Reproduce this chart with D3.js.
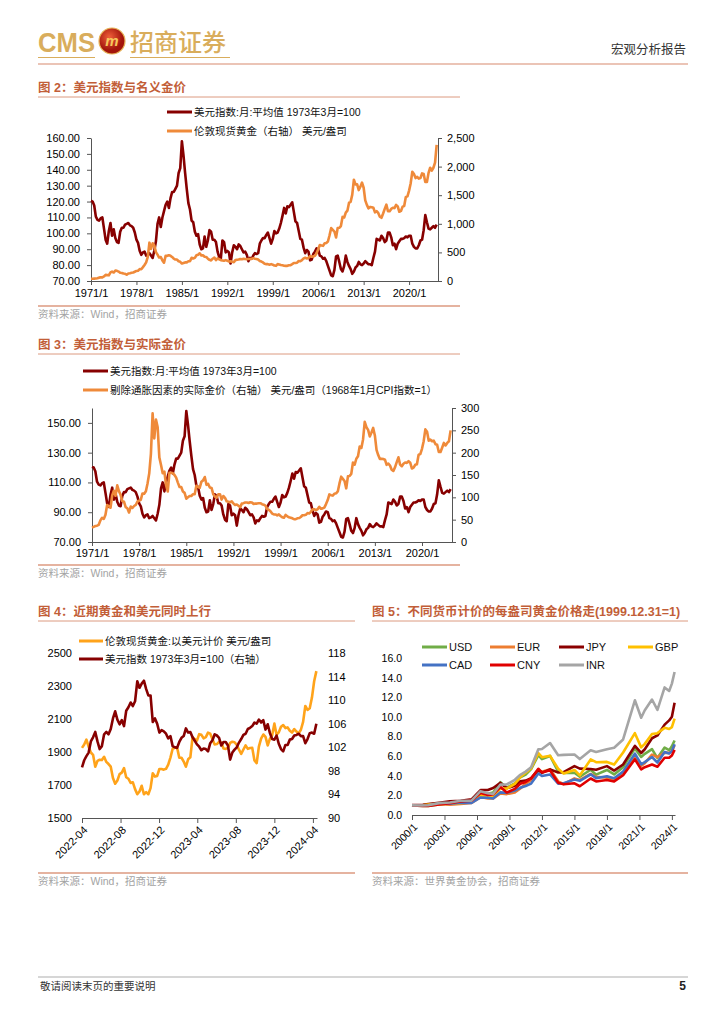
<!DOCTYPE html>
<html>
<head>
<meta charset="utf-8">
<script src="https://cdn.jsdelivr.net/npm/d3@7"></script>
<style>
  body { margin: 0; background: #fff; }
  svg text { font-family: "Liberation Sans", Arial, "Noto Sans CJK SC", sans-serif; }
</style>
</head>
<body>
<svg id="page" width="724" height="1024"></svg>
<script>
// ---------- data ----------

// quarterly, from 1971 Q1
const dxyQuarterly = [
  120.5, 120.0, 117.5, 110.5, 108.5, 108.0, 109.5, 110.0, 103.0, 96.0, 93.5, 101.5,
  106.5, 98.5, 102.5, 97.0, 94.5, 94.0, 101.0, 103.5, 103.5, 105.5, 106.0, 106.5,
  105.0, 104.5, 103.5, 100.5, 96.0, 94.0, 89.0, 86.5, 88.0, 88.5, 86.0, 86.5,
  87.5, 86.0, 84.5, 89.0, 95.0, 106.0, 110.0, 104.0, 110.0, 114.0, 118.0, 120.0,
  116.0, 122.0, 126.0, 126.0, 128.0, 130.0, 138.0, 141.0, 158.0, 149.0, 138.0, 128.0,
  119.0, 115.0, 108.0, 107.0, 101.0, 98.5, 99.5, 93.0, 90.0, 90.5, 98.0, 91.5,
  95.5, 102.0, 101.0, 96.0, 96.0, 94.5, 88.5, 85.0, 84.0, 95.5, 94.5, 88.0,
  89.0, 88.0, 81.0, 88.0, 92.5, 91.5, 90.0, 93.0, 92.0, 90.0, 88.0, 88.5,
  86.5, 82.5, 84.5, 84.0, 86.0, 87.5, 87.0, 87.5, 93.5, 95.5, 97.0, 97.0,
  99.0, 100.5, 97.0, 93.5, 96.5, 101.5, 100.0, 100.5, 103.0, 106.5, 111.0, 116.0,
  112.5, 117.0, 116.5, 118.0, 119.5, 113.5, 107.5, 106.5, 101.5, 96.5, 96.0, 91.0,
  87.5, 89.5, 88.5, 83.0, 83.5, 87.0, 88.5, 90.5, 90.0, 86.0, 85.5, 84.0,
  84.5, 82.5, 79.5, 76.5, 73.5, 73.0, 77.0, 85.5, 86.0, 82.0, 77.5, 76.0,
  79.5, 86.0, 82.0, 79.5, 77.5, 74.5, 76.0, 78.5, 79.5, 82.0, 80.5, 80.0,
  81.0, 82.5, 81.5, 80.5, 80.5, 80.0, 84.5, 88.5, 96.5, 96.0, 95.5, 98.5,
  97.0, 94.5, 95.5, 100.5, 100.5, 97.5, 92.5, 93.5, 90.0, 93.5, 95.0, 96.5,
  96.5, 97.0, 98.0, 97.5, 98.5, 98.5, 93.5, 91.5, 90.5, 90.5, 92.5, 95.5,
  96.0, 102.0, 111.5, 107.0, 103.0, 102.5, 103.5, 104.5, 103.5, 105.5
];

const goldQuarterly = [
  38, 40, 42, 43, 47, 59, 66, 63, 79, 107, 103, 99,
  149, 164, 148, 181, 178, 165, 143, 141, 130, 126, 110, 132,
  136, 144, 148, 162, 176, 180, 207, 206, 242, 279, 326, 420,
  670, 560, 660, 620, 505, 460, 410, 420, 360, 320, 440, 440,
  450, 440, 420, 390, 375, 375, 345, 335, 305, 315, 325, 325,
  345, 345, 405, 395, 405, 450, 460, 485, 445, 450, 425, 420,
  390, 370, 360, 390, 410, 365, 395, 380, 365, 360, 355, 365,
  355, 340, 345, 335, 330, 365, 370, 375, 385, 380, 388, 385,
  380, 385, 384, 387, 400, 390, 385, 375, 350, 340, 325, 300,
  295, 295, 285, 295, 285, 270, 265, 295, 290, 280, 275, 268,
  265, 265, 275, 278, 295, 315, 315, 320, 350, 345, 365, 395,
  405, 395, 405, 435, 425, 430, 440, 485, 555, 630, 620, 615,
  660, 665, 690, 800, 925, 895, 865, 760, 925, 930, 960, 1120,
  1110, 1195, 1230, 1370, 1385, 1510, 1770, 1690, 1690, 1590, 1650, 1720,
  1630, 1410, 1330, 1270, 1295, 1290, 1280, 1200, 1220, 1190, 1125, 1105,
  1180, 1260, 1335, 1220, 1220, 1260, 1280, 1275, 1330, 1305, 1210, 1225,
  1300, 1310, 1470, 1480, 1580, 1710, 1910, 1870, 1800, 1820, 1790, 1800,
  1880, 1870, 1730, 1730, 1890, 1980, 1930, 1980, 2070, 2380
];

const realGoldQuarterly = [
  32.3, 34.0, 35.7, 36.6, 38.5, 48.4, 54.1, 51.7, 61.2, 82.9, 79.8, 76.7,
  104.3, 114.8, 103.6, 126.7, 113.9, 105.6, 91.5, 90.2, 78.0, 75.6, 66.0, 79.2,
  76.2, 80.6, 82.9, 90.7, 92.4, 94.5, 108.7, 108.2, 113.7, 131.1, 153.2, 197.4,
  288, 232, 274, 257, 189, 172.5, 153.8, 157.5, 127, 113, 155, 155,
  154, 150, 144, 133, 123, 123, 113, 110, 97, 100, 103, 103,
  107, 107, 126, 123, 121.5, 135, 138, 145.5, 128, 130, 122, 121,
  107, 102, 99, 107, 107, 95, 103, 99, 91, 90, 89, 91,
  86, 83, 84, 81, 78, 86, 87, 88.5, 88.5, 87.4, 89, 88.5,
  85, 86, 86, 86.7, 86.8, 84.6, 83.5, 81.4, 74.2, 72.1, 68.9, 63.6,
  61.7, 61.7, 59.6, 61.7, 58.4, 55.4, 54.3, 60.5, 57.4, 55.4, 54.5, 53.1,
  51.1, 51.1, 53.1, 53.7, 56.0, 59.9, 59.9, 60.8, 64.8, 63.8, 67.5, 73.1,
  73.3, 71.5, 73.3, 78.7, 74.4, 75.3, 77.0, 84.9, 93.8, 106.5, 104.8, 103.9,
  108.2, 109.0, 113.2, 131.2, 146.2, 141.4, 136.7, 120.1, 147.0, 147.9, 152.6, 178.0,
  173.2, 186.4, 191.9, 213.7, 210.5, 229.5, 269.0, 256.9, 251.0, 236.1, 245.0, 255.4,
  238.5, 206.3, 194.6, 185.8, 186.5, 185.8, 184.3, 172.8, 175.6, 171.2, 161.9, 159.0,
  167.6, 178.9, 189.6, 173.2, 169.6, 175.1, 177.9, 177.2, 180.9, 177.5, 164.6, 166.6,
  172.9, 174.2, 195.5, 196.8, 208.6, 225.7, 252.1, 246.8, 226.8, 229.3, 225.5, 226.8,
  219.0, 217.9, 201.5, 201.5, 211.7, 221.8, 216.2, 221.8, 225.6, 250.0
];

const longStart = new Date(1971, 0, 1);
const longTicks = ['1971/1', '1978/1', '1985/1', '1992/1', '1999/1', '2006/1', '2013/1', '2020/1'];

// weekly (fridays), from 2022-04-01
const weekStart = new Date(2022, 3, 1);
const goldWeekly = [
  1925, 1945, 1975, 1932, 1897, 1883, 1811, 1846, 1853, 1851, 1871, 1840, 1827,
  1811, 1742, 1708, 1727, 1766, 1775, 1802, 1747, 1738, 1712, 1716, 1675, 1644, 1661,
  1695, 1644, 1657, 1644, 1681, 1771, 1751, 1755, 1797, 1797, 1793, 1798, 1824,
  1866, 1920, 1926, 1928, 1865, 1865, 1842, 1811, 1856, 1868, 1989, 1978, 1969,
  2008, 2004, 1983, 1990, 2017, 2011, 1978, 1946, 1948, 1961, 1958, 1921, 1919,
  1925, 1955, 1962, 1959, 1943, 1914, 1889, 1915, 1940, 1919, 1924, 1925, 1849,
  1833, 1933, 1981, 2006, 1992, 1940, 1981, 2001, 2072, 2005, 2019, 2053, 2063,
  2045, 2049, 2029, 2018, 2039, 2024, 2013, 2035, 2083, 2179, 2155, 2165, 2230,
  2329, 2390
];
const dxyWeekly = [
  98.6, 99.8, 100.5, 101.1, 103.0, 103.7, 104.6, 103.0, 101.7, 102.2, 104.2, 104.6, 104.2,
  105.1, 106.9, 108.1, 106.7, 105.9, 106.6, 105.6, 108.2, 108.8, 109.6, 109.0, 109.8, 113.2, 112.1,
  112.8, 113.3, 111.9, 110.8, 110.8, 106.3, 106.9, 106.0, 104.5, 104.9, 104.7, 104.3, 103.5,
  103.9, 102.2, 102.0, 101.9, 102.9, 103.6, 103.9, 105.2, 104.5, 104.6, 103.7, 103.1, 102.5,
  102.1, 101.5, 101.8, 101.7, 101.3, 102.7, 103.2, 104.2, 104.0, 103.6, 102.3, 102.9, 102.9,
  102.3, 99.9, 101.1, 101.6, 102.0, 102.8, 103.4, 104.1, 104.3, 105.1, 105.3, 105.6, 106.2,
  106.0, 106.7, 106.2, 106.6, 105.0, 105.9, 104.4, 103.4, 103.3, 104.0, 102.6, 101.7, 101.3,
  102.4, 102.4, 103.3, 103.4, 104.0, 104.1, 104.3, 103.9, 103.9, 102.7, 103.4, 104.4, 104.5,
  104.3, 106.0
];
const shortTicks = ['2022-04', '2022-08', '2022-12', '2023-04', '2023-08', '2023-12', '2024-04'];

// gold in each currency, 1999.12.31 = 1
const fxDates = [
  '2000-01', '2001-01', '2001-07', '2002-07', '2003-07', '2004-07', '2005-07', '2006-05',
  '2007-01', '2007-07', '2008-03', '2008-10', '2009-07', '2010-01', '2010-07', '2011-01',
  '2011-09', '2012-01', '2012-10', '2013-07', '2014-01', '2015-01', '2015-07', '2016-07',
  '2017-01', '2018-01', '2018-09', '2019-07', '2020-08', '2021-03', '2021-07', '2022-03',
  '2022-09', '2023-05', '2023-10', '2024-01', '2024-04'
];
const fxUSD = [0.98, 0.91, 0.92, 1.08, 1.20, 1.37, 1.46, 2.33, 2.17, 2.30, 3.34, 2.78, 3.22, 3.85, 4.11, 4.67, 6.11, 5.70, 6.02, 4.43, 4.29, 4.31, 3.90, 4.61, 4.11, 4.59, 4.13, 4.87, 6.79, 5.92, 6.23, 6.72, 5.80, 6.87, 6.61, 7.01, 7.60];
const fxEUR = [0.97, 0.98, 1.08, 1.11, 1.06, 1.13, 1.22, 1.83, 1.68, 1.69, 2.19, 2.13, 2.30, 2.71, 3.19, 3.53, 4.49, 4.42, 4.67, 3.43, 3.15, 3.73, 3.57, 4.18, 3.89, 3.79, 3.58, 4.36, 5.81, 5.01, 5.27, 6.16, 5.90, 6.36, 6.33, 6.49, 7.12];
const fxJPY = [1.01, 1.04, 1.12, 1.25, 1.39, 1.46, 1.59, 2.53, 2.55, 2.75, 3.27, 2.72, 2.99, 3.43, 3.50, 3.75, 4.60, 4.29, 4.65, 4.33, 4.37, 4.98, 4.73, 4.69, 4.62, 4.98, 4.53, 5.15, 7.04, 6.32, 6.70, 7.82, 8.11, 9.21, 9.64, 10.02, 11.45];
const fxGBP = [0.96, 1.00, 1.06, 1.13, 1.18, 1.19, 1.34, 2.01, 1.79, 1.82, 2.70, 2.69, 3.17, 3.86, 4.32, 4.75, 6.32, 5.89, 6.03, 4.72, 4.23, 4.59, 4.03, 5.66, 5.38, 5.41, 5.14, 6.37, 8.34, 6.89, 7.25, 8.25, 8.34, 8.88, 8.76, 8.95, 9.82];
const fxCAD = [0.98, 0.95, 0.97, 1.16, 1.15, 1.26, 1.24, 1.79, 1.76, 1.69, 2.31, 2.27, 2.50, 2.77, 2.96, 3.20, 4.23, 3.98, 4.13, 3.19, 3.24, 3.61, 3.48, 4.15, 3.76, 3.94, 3.75, 4.42, 6.25, 5.17, 5.39, 5.91, 5.34, 6.42, 6.27, 6.51, 7.21];
const fxCNY = [0.98, 0.91, 0.92, 1.08, 1.20, 1.37, 1.45, 2.25, 2.04, 2.10, 2.85, 2.29, 2.66, 3.18, 3.37, 3.72, 4.71, 4.34, 4.55, 3.29, 3.14, 3.23, 2.93, 3.72, 3.42, 3.57, 3.42, 4.05, 5.68, 4.65, 4.87, 5.15, 4.92, 5.83, 5.83, 6.06, 6.64];
const fxINR = [0.98, 0.97, 1.00, 1.21, 1.27, 1.45, 1.46, 2.43, 2.21, 2.14, 3.10, 3.11, 3.59, 4.10, 4.42, 4.87, 6.69, 6.72, 7.33, 6.09, 6.13, 6.16, 5.70, 6.60, 6.43, 6.71, 6.85, 7.70, 11.69, 9.91, 10.67, 11.77, 10.71, 13.00, 12.64, 13.39, 14.57];
const fxNames = ['USD', 'EUR', 'JPY', 'GBP', 'CAD', 'CNY', 'INR'];
const fxTicks = ['2000/1', '2003/1', '2006/1', '2009/1', '2012/1', '2015/1', '2018/1', '2021/1', '2024/1'];

// ---------- page ----------

const svg = d3.select('#page');
svg.append('rect').attr('width', 724).attr('height', 1024).attr('fill', '#fff');

const GOLD_LOGO = '#d9ad5c';
const TITLE = '#c25e38';
const RULE = '#dc9a80';
const DARKRED = '#870000';
const ORANGE = '#ef8a3a';
const CJK = '"Noto Sans CJK SC", sans-serif';

// header
svg.append('text').attr('x', 38).attr('y', 52).attr('font-size', 28).attr('font-weight', 'bold')
  .attr('fill', GOLD_LOGO).attr('textLength', 57).attr('lengthAdjust', 'spacingAndGlyphs').text('CMS');
const grad = svg.append('defs').append('radialGradient').attr('id', 'logo').attr('cx', '40%').attr('cy', '35%');
grad.append('stop').attr('offset', '0%').attr('stop-color', '#f0603a');
grad.append('stop').attr('offset', '100%').attr('stop-color', '#a3150c');
svg.append('circle').attr('cx', 112).attr('cy', 41).attr('r', 13).attr('fill', 'url(#logo)')
  .attr('stroke', '#e6b256').attr('stroke-width', 1.2);
svg.append('text').attr('x', 112).attr('y', 46).attr('text-anchor', 'middle').attr('font-size', 15)
  .attr('font-weight', 'bold').attr('font-style', 'italic').attr('fill', '#f6c75c').text('m');
svg.append('text').attr('x', 130).attr('y', 51).attr('font-size', 24).attr('font-family', CJK)
  .attr('font-weight', 500).attr('fill', GOLD_LOGO).text('招商证券');
[[38, 95], [130, 230]].forEach(([a, b]) => {
  svg.append('line').attr('x1', a).attr('x2', b).attr('y1', 57.5).attr('y2', 57.5)
    .attr('stroke', GOLD_LOGO).attr('stroke-width', 1.2);
});
svg.append('line').attr('x1', 38).attr('x2', 688).attr('y1', 64).attr('y2', 64)
  .attr('stroke', '#ebc4b6').attr('stroke-width', 2);
svg.append('text').attr('x', 686).attr('y', 54).attr('text-anchor', 'end').attr('font-size', 12.5)
  .attr('font-family', CJK).attr('fill', '#333').text('宏观分析报告');

// footer
svg.append('line').attr('x1', 38).attr('x2', 688).attr('y1', 977).attr('y2', 977)
  .attr('stroke', '#d6d6d6').attr('stroke-width', 2);
svg.append('text').attr('x', 40).attr('y', 990).attr('font-size', 10.5).attr('font-family', CJK)
  .attr('fill', '#333').text('敬请阅读末页的重要说明');
svg.append('text').attr('x', 686).attr('y', 990).attr('text-anchor', 'end').attr('font-size', 12)
  .attr('font-weight', 'bold').attr('fill', '#222').text('5');

function title(x, y, x2, txt) {
  svg.append('text').attr('x', x).attr('y', y).attr('font-size', 12.5).attr('font-weight', 'bold')
    .attr('fill', TITLE).text(txt);
  svg.append('line').attr('x1', x).attr('x2', x2).attr('y1', y + 5).attr('y2', y + 5)
    .attr('stroke', RULE).attr('stroke-width', 1);
}

function source(x, y, x2, txt) {
  svg.append('line').attr('x1', x).attr('x2', x2).attr('y1', y).attr('y2', y)
    .attr('stroke', RULE).attr('stroke-width', 1.5);
  svg.append('text').attr('x', x).attr('y', y + 12).attr('font-size', 10.5).attr('font-family', CJK)
    .attr('fill', '#a3a3a3').text(txt);
}

function legendItem(x, y, len, color, txt, size) {
  svg.append('line').attr('x1', x).attr('x2', x + len).attr('y1', y).attr('y2', y)
    .attr('stroke', color).attr('stroke-width', 3);
  svg.append('text').attr('x', x + len + 2).attr('y', y + 3.8).attr('font-size', size || 10.5)
    .attr('fill', '#111').text(txt);
}

function styleAxis(g, size) {
  g.attr('font-family', '"Liberation Sans", Arial, sans-serif').attr('font-size', size);
  g.selectAll('text').attr('fill', '#000');
  g.selectAll('line').attr('stroke', '#555');
  g.select('.domain').attr('stroke', '#555');
}

function drawLine(dates, values, x, y, color, width) {
  const line = d3.line().x((d, i) => x(dates[i])).y((d) => y(d)).curve(d3.curveLinear);
  svg.append('path').datum(values).attr('d', line).attr('fill', 'none')
    .attr('stroke', color).attr('stroke-width', width).attr('stroke-linejoin', 'round');
}

const parseSlash = d3.timeParse('%Y/%m');
const parseDash = d3.timeParse('%Y-%m');
const longDates = dxyQuarterly.map((d, i) => d3.timeMonth.offset(longStart, i * 3));
const longEnd = new Date(2024, 5, 15);

// ---------- chart 2 ----------

title(38, 92, 460, '图 2：美元指数与名义金价');
legendItem(167, 112, 25, DARKRED, '美元指数:月:平均值 1973年3月=100');
legendItem(167, 131, 25, ORANGE, '伦敦现货黄金（右轴） 美元/盎司');

const x2 = d3.scaleTime().domain([longStart, longEnd]).range([91, 438]);
const y2L = d3.scaleLinear().domain([70, 160]).range([281, 138]);
const y2R = d3.scaleLinear().domain([0, 2500]).range([281, 138]);

svg.append('g').attr('transform', 'translate(0,281)')
  .call(d3.axisBottom(x2).tickValues(longTicks.map(parseSlash)).tickFormat((d) => d.getFullYear() + '/1')
    .tickSize(4).tickSizeOuter(0).tickPadding(4))
  .call((g) => styleAxis(g, 11));
svg.append('g').attr('transform', 'translate(91,0)')
  .call(d3.axisLeft(y2L).tickValues(d3.range(70, 161, 10)).tickFormat(d3.format('.2f'))
    .tickSize(4).tickSizeOuter(0).tickPadding(7))
  .call((g) => styleAxis(g, 11));
svg.append('g').attr('transform', 'translate(438,0)')
  .call(d3.axisRight(y2R).tickValues(d3.range(0, 2501, 500)).tickFormat(d3.format(','))
    .tickSize(4).tickSizeOuter(0).tickPadding(5))
  .call((g) => styleAxis(g, 11));

drawLine(longDates, dxyQuarterly, x2, y2L, DARKRED, 2.6);
drawLine(longDates, goldQuarterly, x2, y2R, ORANGE, 2.6);

source(38, 306, 460, '资料来源：Wind，招商证券');

// ---------- chart 3 ----------

title(38, 349, 460, '图 3：美元指数与实际金价');
legendItem(83, 371, 25, DARKRED, '美元指数:月:平均值 1973年3月=100');
legendItem(83, 390, 25, ORANGE, '剔除通胀因素的实际金价（右轴） 美元/盎司（1968年1月CPI指数=1）');

const x3 = d3.scaleTime().domain([longStart, longEnd]).range([92, 452]);
const y3L = d3.scaleLinear().domain([70, 160]).range([542, 408]);
const y3R = d3.scaleLinear().domain([0, 300]).range([542, 408]);

svg.append('g').attr('transform', 'translate(0,542)')
  .call(d3.axisBottom(x3).tickValues(longTicks.map(parseSlash)).tickFormat((d) => d.getFullYear() + '/1')
    .tickSize(4).tickSizeOuter(0).tickPadding(3))
  .call((g) => styleAxis(g, 11));
svg.append('g').attr('transform', 'translate(92,0)')
  .call(d3.axisLeft(y3L).tickValues(d3.range(70, 151, 20)).tickFormat(d3.format('.2f'))
    .tickSize(4).tickSizeOuter(0).tickPadding(7))
  .call((g) => styleAxis(g, 11));
svg.append('g').attr('transform', 'translate(452,0)')
  .call(d3.axisRight(y3R).tickValues(d3.range(0, 301, 50)).tickFormat(d3.format('d'))
    .tickSize(4).tickSizeOuter(0).tickPadding(5))
  .call((g) => styleAxis(g, 11));

drawLine(longDates, dxyQuarterly, x3, y3L, DARKRED, 2.6);
drawLine(longDates, realGoldQuarterly, x3, y3R, ORANGE, 2.6);

source(38, 565, 460, '资料来源：Wind，招商证券');

// ---------- chart 4 ----------

title(38, 616, 355, '图 4：近期黄金和美元同时上行');
legendItem(79, 641, 24, '#ffa31a', '伦敦现货黄金:以美元计价 美元/盎司', 10.5);
legendItem(79, 659, 24, DARKRED, '美元指数 1973年3月=100（右轴）', 10.5);

const weekDates = goldWeekly.map((d, i) => d3.timeDay.offset(weekStart, i * 7));
const x4 = d3.scaleTime().domain([weekStart, new Date(2024, 3, 14)]).range([82, 317]);
const y4L = d3.scaleLinear().domain([1500, 2500]).range([818, 653]);
const y4R = d3.scaleLinear().domain([90, 118]).range([818, 653]);

svg.append('g').attr('transform', 'translate(0,818)')
  .call(d3.axisBottom(x4).tickValues(shortTicks.map(parseDash)).tickFormat(d3.timeFormat('%Y-%m'))
    .tickSize(5).tickSizeOuter(0))
  .call((g) => styleAxis(g, 11))
  .call((g) => g.selectAll('text').attr('text-anchor', 'end').attr('y', 0).attr('dy', '0.35em')
    .attr('transform', 'translate(3,10) rotate(-45)'));
svg.append('g').attr('transform', 'translate(82,0)')
  .call(d3.axisLeft(y4L).tickValues(d3.range(1500, 2501, 200)).tickFormat(d3.format('d'))
    .tickSize(0).tickPadding(10))
  .call((g) => styleAxis(g, 11))
  .call((g) => g.select('.domain').remove());
svg.append('g').attr('transform', 'translate(317,0)')
  .call(d3.axisRight(y4R).tickValues(d3.range(90, 119, 4)).tickFormat(d3.format('d'))
    .tickSize(0).tickPadding(11))
  .call((g) => styleAxis(g, 11))
  .call((g) => g.select('.domain').remove());

drawLine(weekDates, goldWeekly, x4, y4L, '#ffa31a', 2.6);
drawLine(weekDates, dxyWeekly, x4, y4R, DARKRED, 2.6);

source(38, 873, 355, '资料来源：Wind，招商证券');

// ---------- chart 5 ----------

title(372, 616, 688, '图 5：不同货币计价的每盎司黄金价格走(1999.12.31=1)');

const fxSeries = [fxUSD, fxEUR, fxJPY, fxGBP, fxCAD, fxCNY, fxINR];
const fxColors = ['#70ad47', '#ed7d31', '#8b0000', '#ffc000', '#4472c4', '#e00000', '#a5a5a5'];
const legendCols = [422, 490, 559, 628];
fxNames.forEach((name, i) => {
  legendItem(legendCols[i % 4], i < 4 ? 647 : 665, 25, fxColors[i], name, 11);
});

const fxDateObjs = fxDates.map(parseDash);
const x5 = d3.scaleTime().domain([new Date(2000, 0, 1), new Date(2024, 3, 15)]).range([412, 675]);
const y5 = d3.scaleLinear().domain([0, 16]).range([815, 658]);

svg.append('g').attr('transform', 'translate(0,815)')
  .call(d3.axisBottom(x5).tickValues(fxTicks.map(parseSlash)).tickFormat((d) => d.getFullYear() + '/1')
    .tickSize(5).tickSizeOuter(0))
  .call((g) => styleAxis(g, 10.5))
  .call((g) => g.selectAll('text').attr('text-anchor', 'end').attr('y', 0).attr('dy', '0.35em')
    .attr('transform', 'translate(3,10) rotate(-45)'));
svg.append('g').attr('transform', 'translate(412,0)')
  .call(d3.axisLeft(y5).tickValues(d3.range(0, 17, 2)).tickFormat(d3.format('.1f')).tickSize(0).tickPadding(10))
  .call((g) => styleAxis(g, 10.5))
  .call((g) => g.select('.domain').remove());

fxSeries.forEach((vals, i) => drawLine(fxDateObjs, vals, x5, y5, fxColors[i], 2.6));

source(372, 873, 688, '资料来源：世界黄金协会，招商证券');
</script>
</body>
</html>
